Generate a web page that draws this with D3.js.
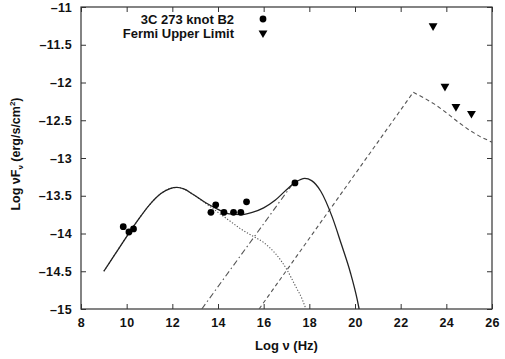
<!DOCTYPE html>
<html>
<head>
<meta charset="utf-8">
<script src="https://cdn.jsdelivr.net/npm/d3@7"></script>
<style>
  body { margin: 0; background: #fff; }
  svg text { font-family: "Liberation Sans", Arial, sans-serif; font-weight: bold; fill: #111; }
  .axis path { stroke: none; }
  .axis line { stroke: #333; }
</style>
</head>
<body>
<div id="chart"></div>
<script>
// measured points, [log nu, log nuFnu]
var knotB2 = [[9.85,-13.91],[10.1,-13.98],[10.3,-13.94],[13.69,-13.72],[13.9,-13.62],[14.26,-13.72],
              [14.68,-13.72],[15.0,-13.72],[15.25,-13.58],[17.37,-13.33]];
var fermiLimits = [[23.42,-11.25],[23.94,-12.05],[24.42,-12.32],[25.1,-12.41]];

// model curves
var totalModel = [[9.0,-14.5],[9.5,-14.27],[10.0,-14.04],[10.5,-13.82],[11.0,-13.62],[11.5,-13.47],
                  [11.9,-13.405],[12.2,-13.39],[12.5,-13.41],[12.9,-13.48],[13.5,-13.6],[14.0,-13.68],
                  [14.5,-13.74],[15.0,-13.75],[15.5,-13.72],[16.0,-13.66],[16.5,-13.56],[17.0,-13.42],
                  [17.4,-13.32],[17.8,-13.27],[18.1,-13.3],[18.5,-13.44],[19.0,-13.78],[19.4,-14.14],
                  [19.8,-14.52],[20.1,-14.88],[20.18,-15.0]];
var synchLow = [[9.0,-14.5],[9.5,-14.27],[10.0,-14.04],[10.5,-13.82],[11.0,-13.62],[11.5,-13.47],
                [11.9,-13.405],[12.2,-13.39],[12.5,-13.41],[12.9,-13.48],[13.5,-13.61],[14.0,-13.72],
                [14.5,-13.83],[15.0,-13.94],[15.5,-14.03],[16.0,-14.12],[16.5,-14.26],[17.0,-14.47],
                [17.4,-14.7],[17.7,-14.88],[17.85,-15.0]];
var synchHigh = [[13.29,-15.0],[17.3,-13.33]];
var icModel = [[15.8,-15.0],[22.55,-12.13],[23.0,-12.2],[23.5,-12.29],[24.0,-12.4],[24.5,-12.52],
               [25.0,-12.63],[25.5,-12.72],[26.0,-12.79]];

var xTicks = [8,10,12,14,16,18,20,22,24,26];
var yTicks = [-11,-11.5,-12,-12.5,-13,-13.5,-14,-14.5,-15];

var W = 505, H = 359;
var margin = {top: 7, right: 13, bottom: 50, left: 81},
    width = W - margin.left - margin.right,
    height = H - margin.top - margin.bottom;

var svg = d3.select("#chart").append("svg")
    .attr("width", W)
    .attr("height", H);

var x = d3.scaleLinear().domain([8, 26]).range([0, width]);
var y = d3.scaleLinear().domain([-15, -11]).range([height, 0]);

var g = svg.append("g").attr("transform", "translate(" + margin.left + "," + margin.top + ")");

var fmt = function(d) { return d.toString().replace("-", "\u2013"); };

g.append("g").attr("class", "axis")
  .attr("transform", "translate(0," + height + ")")
  .call(d3.axisBottom(x).tickValues(xTicks).tickSize(-5).tickPadding(9).tickFormat(fmt))
  .selectAll("text").attr("font-size", "12.5px").attr("letter-spacing", "0.4px");
g.append("g").attr("class", "axis")
  .call(d3.axisTop(x).tickValues(xTicks).tickSize(-5).tickFormat(""));
g.append("g").attr("class", "axis")
  .call(d3.axisLeft(y).tickValues(yTicks).tickSize(-5).tickPadding(9).tickFormat(fmt))
  .selectAll("text").attr("font-size", "12.5px").attr("letter-spacing", "0.4px");
g.append("g").attr("class", "axis")
  .attr("transform", "translate(" + width + ",0)")
  .call(d3.axisRight(y).tickValues(yTicks).tickSize(-5).tickFormat(""));

g.append("rect")
  .attr("width", width).attr("height", height)
  .attr("fill", "none").attr("stroke", "#333").attr("stroke-width", 1.2);

svg.append("defs").append("clipPath").attr("id", "plotclip")
  .append("rect").attr("width", width).attr("height", height);

var line = d3.line().x(d => x(d[0])).y(d => y(d[1]));
var smooth = d3.line().x(d => x(d[0])).y(d => y(d[1])).curve(d3.curveMonotoneX);

var curves = g.append("g").attr("clip-path", "url(#plotclip)");

curves.append("path").datum(icModel)
  .attr("d", line).attr("fill", "none")
  .attr("stroke", "#555").attr("stroke-width", 1.1).attr("stroke-dasharray", "4,3");
curves.append("path").datum(synchHigh)
  .attr("d", line).attr("fill", "none")
  .attr("stroke", "#555").attr("stroke-width", 1.1).attr("stroke-dasharray", "6,3,1.5,3");
curves.append("path").datum(synchLow)
  .attr("d", smooth).attr("fill", "none")
  .attr("stroke", "#555").attr("stroke-width", 1.1).attr("stroke-dasharray", "1.2,1.8");
curves.append("path").datum(totalModel)
  .attr("d", smooth).attr("fill", "none")
  .attr("stroke", "#222").attr("stroke-width", 1.3);

g.selectAll(".knot").data(knotB2).enter().append("circle")
  .attr("class", "knot")
  .attr("cx", d => x(d[0])).attr("cy", d => y(d[1]))
  .attr("r", 3.4).attr("fill", "#000");

var tri = d3.symbol().type(d3.symbolTriangle).size(34);
g.selectAll(".fermi").data(fermiLimits).enter().append("path")
  .attr("class", "fermi")
  .attr("d", tri)
  .attr("transform", d => "translate(" + x(d[0]) + "," + y(d[1]) + ") rotate(180)")
  .attr("fill", "#000");

// legend
var legend = svg.append("g");
legend.append("text").attr("x", 234).attr("y", 24).attr("text-anchor", "end")
  .attr("font-size", "13px").text("3C 273 knot B2");
legend.append("text").attr("x", 234).attr("y", 38).attr("text-anchor", "end")
  .attr("font-size", "13px").text("Fermi Upper Limit");
legend.append("circle").attr("cx", 263).attr("cy", 19).attr("r", 3.4).attr("fill", "#000");
legend.append("path").attr("d", tri)
  .attr("transform", "translate(263,33) rotate(180)").attr("fill", "#000");

// axis titles
svg.append("text")
  .attr("x", margin.left + width / 2).attr("y", 350)
  .attr("text-anchor", "middle").attr("font-size", "13px")
  .text("Log \u03bd (Hz)");

var yt = svg.append("text")
  .attr("transform", "translate(20," + (margin.top + height / 2 - 4) + ") rotate(-90)")
  .attr("text-anchor", "middle").attr("font-size", "12.5px");
yt.append("tspan").text("Log \u03bdF");
yt.append("tspan").attr("font-size", "8px").attr("dy", 3).text("\u03bd");
yt.append("tspan").attr("dy", -3).text(" (erg/s/cm");
yt.append("tspan").attr("font-size", "8px").attr("dy", -5).text("2");
yt.append("tspan").attr("dy", 5).text(")");
</script>
</body>
</html>
